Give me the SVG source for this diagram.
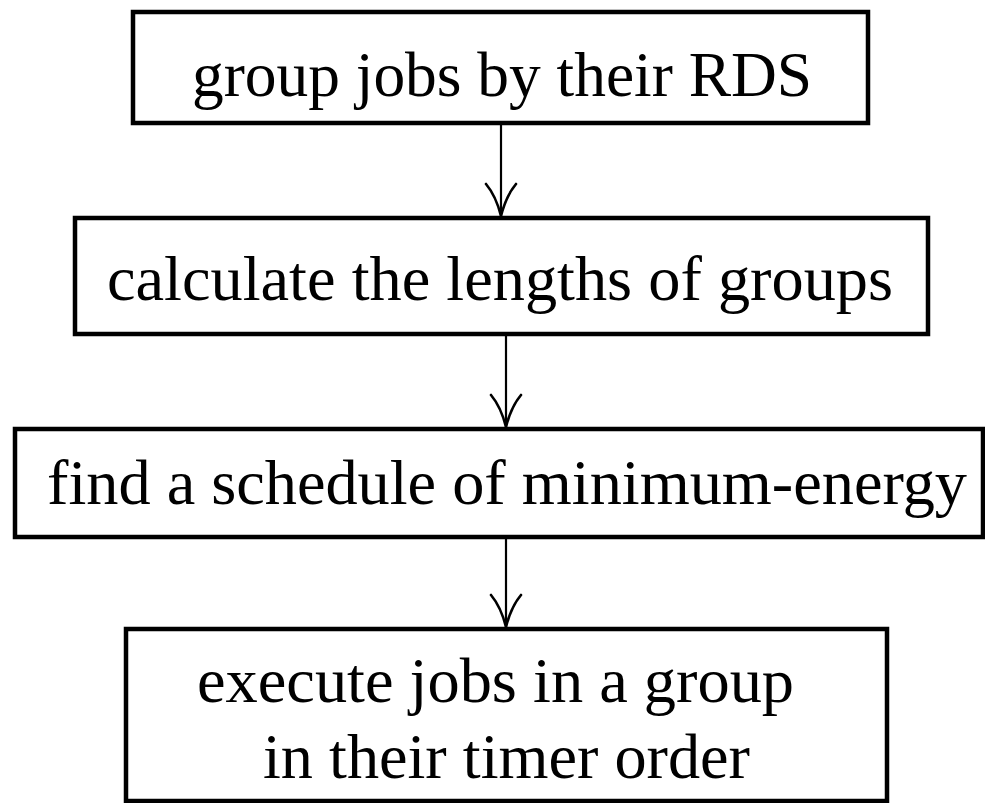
<svg xmlns="http://www.w3.org/2000/svg" width="985" height="803" viewBox="0 0 985 803">
<style>
.box{fill:#fff;stroke:#000;stroke-width:4.5}
.lbl{font-family:"Liberation Serif","Times New Roman",serif;font-size:64px;fill:#000}
.conn{stroke:#000;stroke-width:2.2;fill:none}
.head{stroke:#000;stroke-width:2.6;fill:none;stroke-linecap:round}
</style>
<rect width="985" height="803" fill="#fff"/>
<g id="n1">
<rect class="box" x="133" y="12" width="735" height="111"/>
<text class="lbl" x="192" y="96" textLength="620" lengthAdjust="spacingAndGlyphs">group jobs by their RDS</text>
</g>
<g id="n2">
<rect class="box" x="75" y="218" width="853" height="116"/>
<text class="lbl" x="107" y="300" textLength="786" lengthAdjust="spacingAndGlyphs">calculate the lengths of groups</text>
</g>
<g id="n3">
<rect class="box" x="15" y="429" width="968" height="108"/>
<text class="lbl" x="47" y="504" textLength="920" lengthAdjust="spacingAndGlyphs">find a schedule of minimum-energy</text>
</g>
<g id="n4">
<rect class="box" x="126" y="629" width="761" height="172"/>
<text class="lbl" x="197" y="702" textLength="597" lengthAdjust="spacingAndGlyphs">execute jobs in a group</text>
<text class="lbl" x="263" y="778" textLength="487" lengthAdjust="spacingAndGlyphs">in their timer order</text>
</g>
<g id="connectors">
<path class="conn" d="M501 125 V216"/>
<path class="head" d="M486 184 Q496 196 501 216 Q506 196 516 184"/>
<path class="conn" d="M506 336 V427"/>
<path class="head" d="M491 395 Q501 407 506 427 Q511 407 521 395"/>
<path class="conn" d="M506 539 V627"/>
<path class="head" d="M491 595 Q501 607 506 627 Q511 607 521 595"/>
</g>
</svg>
